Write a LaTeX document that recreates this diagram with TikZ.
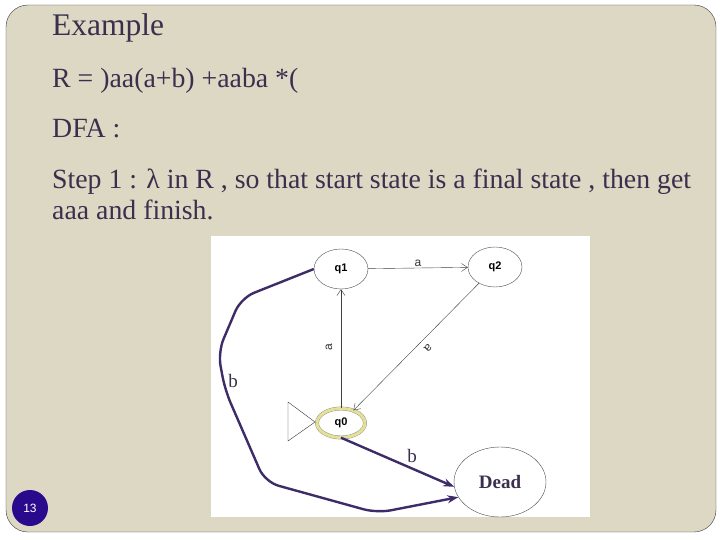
\documentclass[tikz,border=0pt]{standalone}
\usepackage{fontspec}
\setmainfont{Liberation Serif}
\setsansfont{Liberation Sans}
\usetikzlibrary{arrows.meta, positioning, shapes.geometric}
\definecolor{slidebg}{RGB}{221,216,196}
\definecolor{slideframe}{RGB}{60,60,66}
\definecolor{slidetext}{RGB}{58,48,78}
\definecolor{edgepurple}{RGB}{62,44,104}
\definecolor{ringyellow}{RGB}{228,224,150}
\definecolor{pagecircle}{RGB}{42,10,140}

\begin{document}
\begin{tikzpicture}[
    x=1pt, y=-1pt,
    titletext/.style={anchor=base west, inner sep=0pt, text=slidetext, font=\fontsize{31.5}{36}\selectfont},
    bodytext/.style={anchor=base west, inner sep=0pt, text=slidetext, font=\fontsize{27.8}{32}\selectfont},
    statebox/.style={ellipse, draw=black!70, fill=white, thin, minimum width=54pt, minimum height=40pt, inner sep=0pt, font=\sffamily\bfseries\fontsize{11}{12}\selectfont},
    acceptbox/.style={statebox, draw=black!45, double=ringyellow, double distance=3pt, minimum width=48pt, minimum height=29pt},
    deadbox/.style={statebox, minimum width=92pt, minimum height=70pt, text=slidetext, font=\rmfamily\bfseries\fontsize{19}{20}\selectfont},
    aedge/.style={draw=black!75, thin, -{Straight Barb[length=6pt, width=8pt]}},
    bedge/.style={draw=edgepurple, line width=2.4pt, -{Stealth[length=11pt, width=8pt]}},
    alabel/.style={font=\sffamily\fontsize{12}{12}\selectfont, text=black!80, inner sep=1pt},
    blabel/.style={font=\fontsize{19}{20}\selectfont, text=slidetext, inner sep=1pt},
]
    \useasboundingbox (0,0) rectangle (720,540);
    \fill[white] (0,0) rectangle (720,540);

    % slide
    \draw[slideframe, fill=slidebg, rounded corners=22pt] (6,5) rectangle (716,532);

    \node[titletext] (title) at (52,36) {Example};
    \node[bodytext] (regex) at (52,88) {R = )aa(a+b) +aaba *(};
    \node[bodytext] (dfa) at (52,138) {DFA :};
    \node[bodytext] (step) at (52,189) {Step 1 : λ in R , so that start state is a final state , then get};
    \node[bodytext] (finish) at (52,220) {aaa and finish.};

    % pasted automaton picture
    \fill[white] (211,236) rectangle (590,517);

    \node[statebox] (q1) at (341,269) {q1};
    \node[statebox] (q2) at (495,267) {q2};
    \node[acceptbox] (q0) at (341,423) {q0};
    \node[deadbox] (dead) at (500,482) {Dead};

    % start marker
    \draw[black!80, thin] (315,422) -- (288,402) -- (288,441) -- cycle;

    \draw[aedge] (q1) -- node[alabel, above] {a} (q2);
    \draw[aedge] (q0) -- (q1);
    \draw[aedge] (q2) -- (q0);
    \node[alabel, rotate=90] (aup) at (329,347) {a};
    \node[alabel, rotate=225] (adown) at (428,348) {a};

    \draw[bedge] (q0.south) -- node[blabel, pos=0.55, above right=0pt and 2pt] {b} (dead.186);
    \draw[bedge, rounded corners=14pt] (q1.west) -- (241,298) -- (218,352) -- (225,390)
        -- (265,482) -- (377,513) -- (dead.200);
    \node[blabel] (bleft) at (233,381) {b};

    % page number
    \node[circle, fill=pagecircle, minimum size=36pt, inner sep=0pt, text=white, font=\sffamily\fontsize{12}{12}\selectfont] (page) at (30,508) {13};
\end{tikzpicture}
\end{document}
